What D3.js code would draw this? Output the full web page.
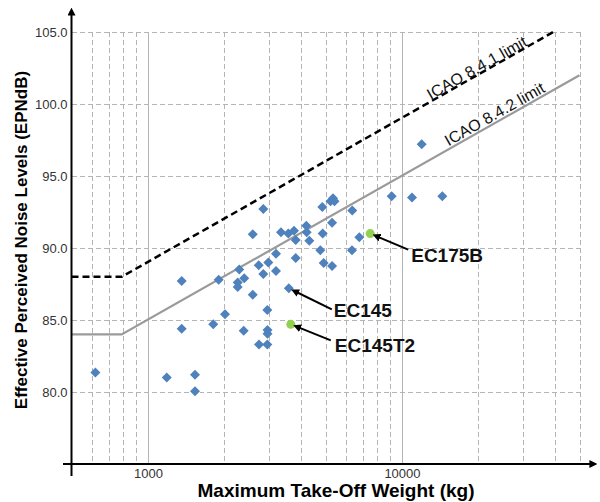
<!DOCTYPE html>
<html>
<head>
<meta charset="utf-8">
<script src="https://cdn.jsdelivr.net/npm/d3@7"></script>
<style>
  body { margin: 0; background: #fff; }
  svg { display: block; font-family: "Liberation Sans", Arial, sans-serif; }
  .grid line { stroke: #b4b4b4; stroke-width: 1; shape-rendering: crispEdges; }
  .grid .minor { stroke-dasharray: 5 3; }
  .tick text { fill: #333; font-size: 13px; }
  .ann { font-size: 19px; font-weight: bold; fill: #111; }
  .lim-label { font-size: 16px; fill: #111; }
</style>
</head>
<body>
<svg id="chart" width="600" height="502"></svg>
<script>
// helicopter noise certification data (mass in kg, level in EPNdB)
const mtow = [621, 1186, 1358, 1358, 1532, 1532, 1807, 1899, 2011, 2256,
  2256, 2288, 2394, 2382, 2585, 2585, 2729, 2737, 2845, 2845,
  2951, 2956, 2956, 2951, 2977, 3193, 3193, 3340, 3569, 3585,
  3758, 3817, 3817, 4202, 4217, 4317, 4770, 4857, 4875, 4919,
  5233, 5352, 5424, 5307, 5307, 6371, 6358, 6793, 9111, 10955,
  11957, 14414];
const epnl = [81.35, 81.0, 87.7, 84.4, 81.2, 80.05, 84.7, 87.8, 85.4, 87.6,
  87.3, 88.5, 87.9, 84.25, 86.75, 90.95, 88.8, 83.3, 92.7, 88.2,
  85.7, 84.3, 84.05, 83.3, 89.0, 88.4, 89.6, 91.1, 91.0, 87.2,
  91.2, 90.55, 89.3, 91.55, 91.1, 90.5, 89.85, 92.85, 91.0, 88.95,
  93.25, 93.45, 93.25, 91.75, 88.75, 92.6, 89.85, 90.75, 93.6, 93.5,
  97.2, 93.6];

// new variants shown in green
const newNames = ['EC145T2', 'EC175B'];
const newMtow = [3650, 7500];
const newEpnl = [84.7, 91.0];

// ICAO limit lines (corner points)
const lim841Mass = [500, 788, 39400];
const lim841Db = [88, 88, 105];
const lim842Mass = [500, 788, 50000];
const lim842Db = [84, 84, 102];

const yTicks = [80, 85, 90, 95, 100, 105];
const xTicks = [1000, 10000];

const svg = d3.select('#chart');

const x = d3.scaleLog().domain([500, 50000]).range([71.5, 579.5]);
const y = d3.scaleLinear().domain([75, 105]).range([464, 32]);

// grid
const grid = svg.append('g').attr('class', 'grid');
grid.selectAll('line.h')
  .data(yTicks)
  .join('line')
  .attr('class', 'h minor')
  .attr('x1', x(500)).attr('x2', x(50000))
  .attr('y1', d => Math.round(y(d)) + 0.5).attr('y2', d => Math.round(y(d)) + 0.5);

grid.selectAll('line.v')
  .data(x.ticks().filter(d => d > 500))
  .join('line')
  .attr('class', d => xTicks.includes(d) ? 'v major' : 'v minor')
  .attr('x1', d => Math.round(x(d)) + 0.5).attr('x2', d => Math.round(x(d)) + 0.5)
  .attr('y1', y(105)).attr('y2', y(75));

// limit lines
const limLine = d3.line().x(d => x(d[0])).y(d => y(d[1]));
svg.append('path')
  .attr('d', limLine(d3.zip(lim842Mass, lim842Db)))
  .attr('fill', 'none').attr('stroke', '#9a9a9a').attr('stroke-width', 2.2);
svg.append('path')
  .attr('d', limLine(d3.zip(lim841Mass, lim841Db)))
  .attr('fill', 'none').attr('stroke', '#000').attr('stroke-width', 2.5)
  .attr('stroke-dasharray', '7 4');

// limit labels, rotated along the sloped part
function limitLabel(text, m0, db0, m1, db1, atMass, off) {
  const ang = Math.atan2(y(db1) - y(db0), x(m1) - x(m0)) * 180 / Math.PI;
  const t = Math.log(atMass / m0) / Math.log(m1 / m0);
  const px = x(atMass), py = y(db0 + t * (db1 - db0));
  svg.append('text')
    .attr('class', 'lim-label')
    .attr('text-anchor', 'middle')
    .attr('transform', `translate(${px},${py}) rotate(${ang}) translate(0,${-off})`)
    .text(text);
}
limitLabel('ICAO 8.4.1 limit', lim841Mass[1], lim841Db[1], lim841Mass[2], lim841Db[2], 20300, 1);
limitLabel('ICAO 8.4.2 limit', lim842Mass[1], lim842Db[1], lim842Mass[2], lim842Db[2], 24000, 2.5);

// blue diamonds
const diamond = d3.symbol().type(d3.symbolSquare).size(50);
svg.append('g').selectAll('path')
  .data(d3.zip(mtow, epnl))
  .join('path')
  .attr('d', diamond)
  .attr('fill', '#4f81bd')
  .attr('transform', d => `translate(${x(d[0])},${y(d[1])}) rotate(45)`);

// green variants
svg.append('g').selectAll('circle')
  .data(d3.zip(newMtow, newEpnl))
  .join('circle')
  .attr('cx', d => x(d[0])).attr('cy', d => y(d[1]))
  .attr('r', 4.5)
  .attr('fill', '#92d050');

// axes
svg.append('defs').append('marker')
  .attr('id', 'head')
  .attr('viewBox', '0 0 10 10')
  .attr('refX', 2).attr('refY', 5)
  .attr('markerWidth', 4).attr('markerHeight', 4)
  .attr('markerUnits', 'strokeWidth')
  .attr('orient', 'auto')
  .append('path').attr('d', 'M0,0 L10,5 L0,10 z').attr('fill', '#000');

svg.append('line')
  .attr('x1', x(500)).attr('x2', x(500))
  .attr('y1', 476).attr('y2', 14)
  .attr('stroke', '#000').attr('stroke-width', 2)
  .attr('marker-end', 'url(#head)');
svg.append('line')
  .attr('x1', 63).attr('x2', 591)
  .attr('y1', y(75)).attr('y2', y(75))
  .attr('stroke', '#000').attr('stroke-width', 2)
  .attr('marker-end', 'url(#head)');

const yAxis = svg.append('g')
  .attr('transform', `translate(${x(500)},0)`)
  .call(d3.axisLeft(y).tickValues(yTicks).tickFormat(d3.format('.1f')).tickSize(0).tickPadding(4));
yAxis.select('.domain').remove();
yAxis.selectAll('text').attr('font-family', null).attr('font-size', null);

const xAxis = svg.append('g')
  .attr('transform', `translate(0,${y(75)})`)
  .call(d3.axisBottom(x).tickValues(xTicks).tickFormat(d3.format('d')).tickSize(0).tickPadding(5));
xAxis.select('.domain').remove();
xAxis.selectAll('text').attr('font-family', null).attr('font-size', null);

// axis titles
svg.append('text')
  .attr('transform', 'translate(27,240) rotate(-90)')
  .attr('text-anchor', 'middle')
  .attr('font-size', 17).attr('font-weight', 'bold')
  .text('Effective Perceived Noise Levels (EPNdB)');
svg.append('text')
  .attr('x', 336).attr('y', 497)
  .attr('text-anchor', 'middle')
  .attr('font-size', 19).attr('font-weight', 'bold')
  .text('Maximum Take-Off Weight (kg)');

// callouts: label offset from the point, arrow drawn back to it
const callouts = [
  { name: 'EC145', m: 3585, db: 87.2, tx: 45, ty: 29, ax: 43, ay: 21 },
  { name: newNames[0], m: newMtow[0], db: newEpnl[0], tx: 44, ty: 28, ax: 40, ay: 16 },
  { name: newNames[1], m: newMtow[1], db: newEpnl[1], tx: 41, ty: 28, ax: 38, ay: 16 }
];
const ann = svg.append('g');
callouts.forEach(c => {
  const px = x(c.m), py = y(c.db);
  const len = Math.hypot(c.ax, c.ay);
  ann.append('line')
    .attr('x1', px + c.ax).attr('y1', py + c.ay)
    .attr('x2', px + c.ax / len * 9).attr('y2', py + c.ay / len * 9)
    .attr('stroke', '#000').attr('stroke-width', 2)
    .attr('marker-end', 'url(#head)');
  ann.append('text')
    .attr('class', 'ann')
    .attr('x', px + c.tx).attr('y', py + c.ty)
    .text(c.name);
});
</script>
</body>
</html>
